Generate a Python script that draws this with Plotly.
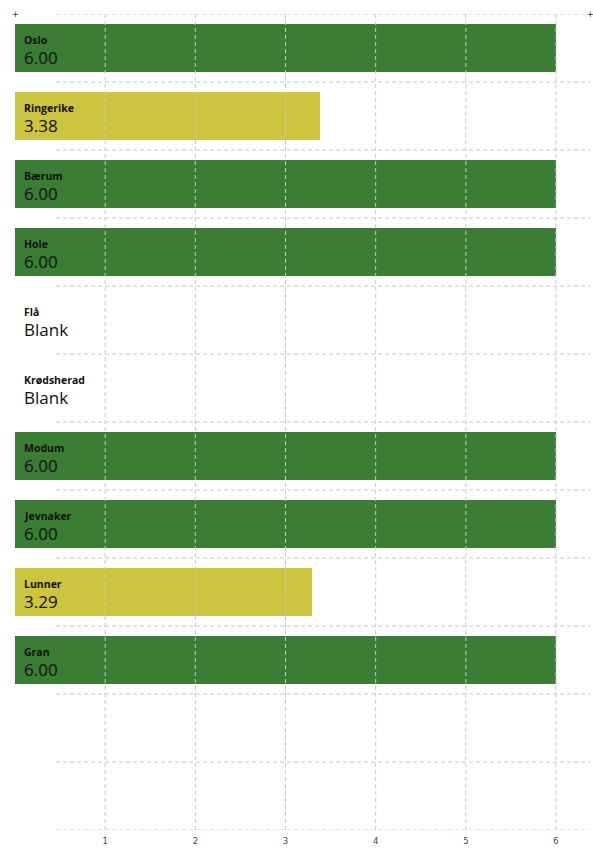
import plotly.graph_objects as go

# data
kommuner = ["Oslo", "Ringerike", "Bærum", "Hole", "Flå", "Krødsherad",
            "Modum", "Jevnaker", "Lunner", "Gran"]
verdier = [6.00, 3.38, 6.00, 6.00, None, None, 6.00, 6.00, 3.29, 6.00]
x_ticks = [1, 2, 3, 4, 5, 6]
n_slots = 12

GREEN = "#3b7d34"
YELLOW = "#cdc440"
GRID = "#c8c8c8"

farger = [GREEN if (v is not None and v >= 5) else YELLOW for v in verdier]
rows = list(range(len(kommuner)))

fig = go.Figure()
fig.add_trace(go.Bar(
    x=[v if v is not None else 0 for v in verdier],
    y=rows,
    orientation="h",
    width=0.72,
    marker=dict(color=farger, line=dict(width=0)),
    hoverinfo="skip",
    showlegend=False,
))

x_max = 6.377
grid_start = 0.455

shapes = []
# horizontal dashed lines at slot borders
for k in range(n_slots + 1):
    shapes.append(dict(type="line", xref="x", yref="y",
                       x0=grid_start, x1=x_max, y0=k - 0.5, y1=k - 0.5,
                       line=dict(color=GRID, width=1, dash="4px,3px"),
                       layer="above"))
# vertical dashed lines at ticks, drawn over the bars
for t in x_ticks:
    shapes.append(dict(type="line", xref="x", yref="paper",
                       x0=t, x1=t, y0=0, y1=1,
                       line=dict(color=GRID, width=1, dash="4px,3px"),
                       layer="above"))

annotations = []
for i, (navn, v) in enumerate(zip(kommuner, verdier)):
    annotations.append(dict(
        x=0.08, y=i, xref="x", yref="y", xanchor="left", yanchor="middle",
        text="<b>%s</b>" % navn, showarrow=False, yshift=8,
        font=dict(family="Open Sans", size=10.5, color="#111"),
    ))
    annotations.append(dict(
        x=0.08, y=i, xref="x", yref="y", xanchor="left", yanchor="middle",
        text="%.2f" % v if v is not None else "Blank", showarrow=False,
        yshift=-9,
        font=dict(family="Open Sans", size=17, color="#111"),
    ))
# little corner marks
for px in [0, 1]:
    annotations.append(dict(
        x=px, y=1, xref="paper", yref="paper", xanchor="center",
        yanchor="middle", text="+", showarrow=False,
        font=dict(family="DejaVu Sans", size=8, color="#333"),
    ))

fig.update_layout(
    width=593, height=848,
    margin=dict(l=15, r=3, t=14, b=18),
    paper_bgcolor="white", plot_bgcolor="white",
    bargap=0,
    shapes=shapes,
    annotations=annotations,
    xaxis=dict(range=[0, x_max], tickvals=x_ticks, showgrid=False,
               zeroline=False, showline=False, ticks="", ticklen=0,
               ticklabelstandoff=4,
               tickfont=dict(family="DejaVu Sans", size=8.5, color="#444"),
               fixedrange=True),
    yaxis=dict(range=[n_slots - 0.5, -0.5], showgrid=False, zeroline=False,
               showticklabels=False, showline=False, fixedrange=True),
)

# drop the default page margin so the figure fills the window
fig.write_html("out.html",
               config={"displayModeBar": False},
               post_script="document.body.style.margin='0';"
                           "document.body.style.overflow='hidden';")
